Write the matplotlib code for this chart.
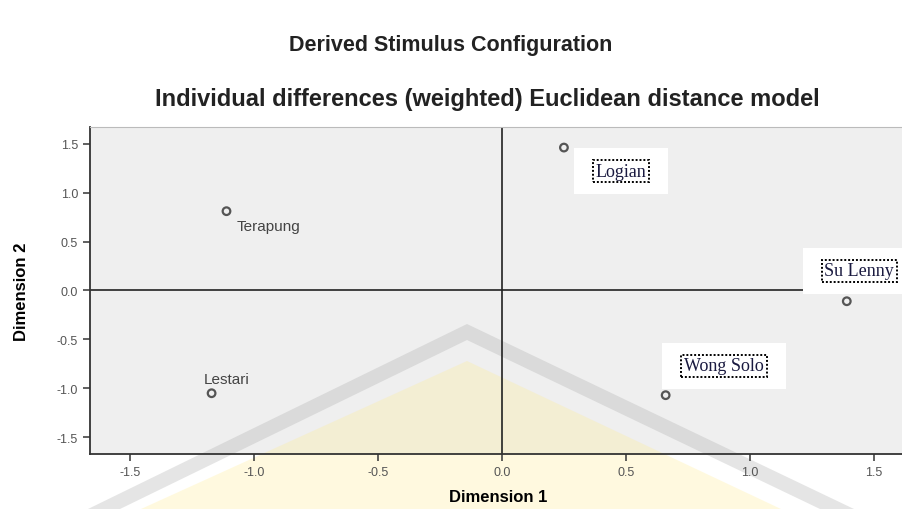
import numpy as np
import matplotlib
matplotlib.use("Agg")
import matplotlib.pyplot as plt
from matplotlib.patches import Polygon, Rectangle

# Stimulus coordinates
names = ["Terapung", "Lestari", "Logian", "Su Lenny", "Wong Solo"]
dim1 = [-1.11, -1.17, 0.25, 1.39, 0.66]
dim2 = [0.81, -1.05, 1.46, -0.11, -1.07]

# where the boxed labels sit (data units); None = plain label next to the point
box_x = [None, None, 0.48, 1.44, 0.895]
box_y = [None, None, 1.22, 0.20, -0.77]

ticks = [-1.5, -1.0, -0.5, 0.0, 0.5, 1.0, 1.5]

plt.rcParams['font.family'] = ['Liberation Sans', 'DejaVu Sans']

W, H = 902, 510
fig = plt.figure(figsize=(W / 100, H / 100), dpi=100)
ax = fig.add_axes([0.0998, 0.108, 0.905, 0.641])
ax.set_facecolor('#efefef')

ax.set_xlim(-1.66, 1.63)
ax.set_ylim(-1.67, 1.67)


# faint watermark of the source document (pixel coords -> figure fraction)
def fpts(pts):
    return [(x / W, 1 - y / H) for x, y in pts]


yellow = fpts([(467, 362), (781, 510), (141, 510)])
band = fpts([(467, 325), (854, 510), (820, 510), (467, 341), (120, 510), (88, 510)])
ax.add_patch(Polygon(yellow, closed=True, transform=fig.transFigure,
                     fc=(1.0, 0.93, 0.55), alpha=0.28, ec='none',
                     clip_on=False, zorder=0.5))
ax.add_patch(Polygon(band, closed=True, transform=fig.transFigure,
                     fc='#aaaaaa', alpha=0.3, ec='none',
                     clip_on=False, zorder=0.5))

ax.axhline(0, color='#222222', lw=1.2, zorder=1)
ax.axvline(0, color='#222222', lw=1.2, zorder=1)

ax.scatter(dim1, dim2, s=30, facecolors='none', edgecolors='#555555',
           linewidths=1.6, zorder=3)

# plain labels
plain_off = {"Terapung": (7, -11), "Lestari": (-6, 10)}
for n, x, y in zip(names, dim1, dim2):
    if n in plain_off:
        ax.annotate(n, (x, y), xytext=plain_off[n], textcoords='offset points',
                    ha='left', va='center', fontsize=11, color='#444444',
                    zorder=4)

# pasted-in text boxes: dotted frame with serif text on a white patch
boxed = []
for n, bx, by in zip(names, box_x, box_y):
    if bx is None:
        continue
    t = ax.text(bx, by, n, ha='center', va='center', fontsize=13,
                family=['Liberation Serif', 'DejaVu Serif'], color='#1a1a40',
                bbox=dict(boxstyle='square,pad=0.15', fc='white', ec='black',
                          ls=(0, (1, 1)), lw=1.4),
                zorder=6)
    boxed.append(t)

ax.set_xticks(ticks)
ax.set_yticks(ticks)
ax.set_xticklabels([f"{t:.1f}" for t in ticks])
ax.set_yticklabels([f"{t:.1f}" for t in ticks])
ax.tick_params(direction='out', length=5, width=1.2, color='#444444',
               labelsize=9, labelcolor='#555555')

for s in ['left', 'bottom']:
    ax.spines[s].set_color('#333333')
    ax.spines[s].set_linewidth(1.3)
ax.spines['top'].set_color('#bbbbbb')
ax.spines['right'].set_visible(False)

ax.set_xlabel("Dimension 1", fontsize=12, fontweight='bold', labelpad=8)
ax.set_ylabel("Dimension 2", fontsize=12, fontweight='bold', labelpad=20)

fig.text(0.5, 0.91, "Derived Stimulus Configuration", ha='center',
         va='center', fontsize=15.5, fontweight='bold', color='#222222')
fig.text(0.54, 0.805, "Individual differences (weighted) Euclidean distance model",
         ha='center', va='center', fontsize=17, fontweight='bold',
         color='#222222')

# white margin round each pasted box
fig.canvas.draw()
for t in boxed:
    bb = t.get_bbox_patch().get_window_extent()
    ax.add_patch(Rectangle((bb.x0 - 19, bb.y0 - 12), bb.width + 38,
                           bb.height + 24, transform=None, fc='white',
                           ec='none', zorder=5))

fig.savefig("out.png", dpi=100)
